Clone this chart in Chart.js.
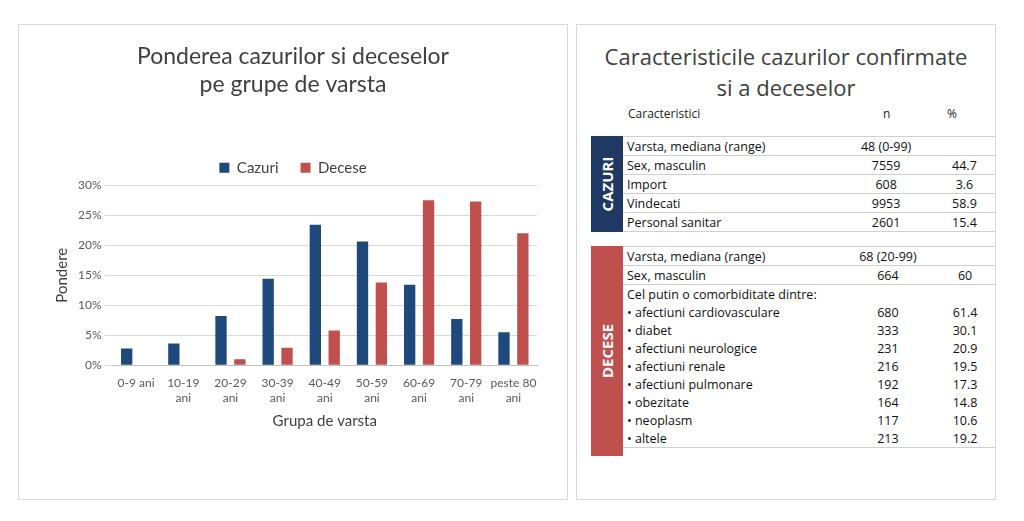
<!DOCTYPE html>
<html>
<head>
<meta charset="utf-8">
<script src="https://cdn.jsdelivr.net/npm/chart.js@4"></script>
<style>
  body { margin: 0; background: #fff; width: 1024px; height: 521px; position: relative; font-family: "Open Sans", sans-serif; }
  .panel { position: absolute; border: 1px solid #d9d9d9; background: #fff; }
  #left { left: 18px; top: 24px; width: 548px; height: 474px; }
  #right { left: 576px; top: 24px; width: 418px; height: 474px; }
  #chartBox { position: absolute; left: 10px; top: 14px; width: 530px; height: 450px; }
  h2 { position: absolute; left: 0; top: 16px; width: 418px; margin: 0; text-align: center; font-weight: normal; font-size: 22px; line-height: 31px; color: #404040; }
  .hdr { position: absolute; top: 80px; font-size: 12px; color: #222; }
  table { position: absolute; left: 46px; border-collapse: collapse; font-size: 12.5px; color: #111; }
  td { height: 18px; padding: 0 4px; border-bottom: 1px solid #d0d0d0; white-space: nowrap; }
  td.n { text-align: center; width: 90px; }
  td.p { text-align: center; width: 55px; }
  td.t { width: 212px; }
  tr.nb td { border-bottom: none; }
  .side { position: absolute; left: 14px; width: 32px; color: #fff; font-weight: bold; font-size: 15px; }
  .side span { position: absolute; left: 50%; top: 50%; transform: translate(-50%,-50%) rotate(-90deg); white-space: nowrap; }
</style>
</head>
<body>
<div class="panel" id="left"><div id="chartBox"><canvas id="chart"></canvas></div></div>
<div class="panel" id="right">
  <h2>Caracteristicile cazurilor confirmate<br>si a deceselor</h2>
  <div class="hdr" style="left:51px">Caracteristici</div>
  <div class="hdr" style="left:306px">n</div>
  <div class="hdr" style="left:370px">%</div>
  <div class="side" style="top:111px;height:96px;background:#1f3864"><span>CAZURI</span></div>
  <table id="tCaz" style="top:111px;border-top:1px solid #d0d0d0"></table>
  <div class="side" style="top:221px;height:210px;background:#c0504d"><span>DECESE</span></div>
  <table id="tDec" style="top:221px;border-top:1px solid #d0d0d0"></table>
</div>
<script>
var grupe = [['0-9 ani'], ['10-19', 'ani'], ['20-29', 'ani'], ['30-39', 'ani'], ['40-49', 'ani'], ['50-59', 'ani'], ['60-69', 'ani'], ['70-79', 'ani'], ['peste 80', 'ani']];
var cazuri = [2.8, 3.6, 8.2, 14.4, 23.4, 20.6, 13.4, 7.7, 5.5];
var decese = [0, 0, 1.0, 2.9, 5.8, 13.8, 27.5, 27.3, 22.0];

var randuriCazuri = [
  ['Varsta, mediana (range)', '48 (0-99)', ''],
  ['Sex, masculin', '7559', '44.7'],
  ['Import', '608', '3.6'],
  ['Vindecati', '9953', '58.9'],
  ['Personal sanitar', '2601', '15.4']
];
var randuriDecese = [
  ['Varsta, mediana (range)', '68 (20-99)', ''],
  ['Sex, masculin', '664', '60'],
  ['Cel putin o comorbiditate dintre:', '', ''],
  ['• afectiuni cardiovasculare', '680', '61.4'],
  ['• diabet', '333', '30.1'],
  ['• afectiuni neurologice', '231', '20.9'],
  ['• afectiuni renale', '216', '19.5'],
  ['• afectiuni pulmonare', '192', '17.3'],
  ['• obezitate', '164', '14.8'],
  ['• neoplasm', '117', '10.6'],
  ['• altele', '213', '19.2']
];

function fill(id, rows, noBorderFrom) {
  var t = document.getElementById(id);
  rows.forEach(function (r, i) {
    var tr = document.createElement('tr');
    if (noBorderFrom !== undefined && i >= noBorderFrom && i < rows.length - 1) tr.className = 'nb';
    tr.innerHTML = '<td class="t">' + r[0] + '</td><td class="n">' + r[1] + '</td><td class="p">' + r[2] + '</td>';
    t.appendChild(tr);
  });
}
fill('tCaz', randuriCazuri);
fill('tDec', randuriDecese, 2);

var font = 'Lato, "Open Sans", sans-serif';
new Chart(document.getElementById('chart'), {
  type: 'bar',
  data: {
    labels: grupe,
    datasets: [
      { label: 'Cazuri', data: cazuri, backgroundColor: '#1f497d', barPercentage: 0.6, categoryPercentage: 0.8 },
      { label: 'Decese', data: decese, backgroundColor: '#c0504d', barPercentage: 0.6, categoryPercentage: 0.8 }
    ]
  },
  options: {
    responsive: true, maintainAspectRatio: false, animation: false,
    layout: { padding: { left: 20, right: 22, bottom: 55 } },
    plugins: {
      title: { display: true, text: ['Ponderea cazurilor si deceselor', 'pe grupe de varsta'],
        color: '#404040', font: { family: font, size: 23, weight: 'normal' }, padding: { top: 4, bottom: 40 } },
      legend: { labels: { color: '#404040', font: { family: font, size: 15 }, boxWidth: 10, boxHeight: 10, padding: 22 } },
      tooltip: { enabled: false }
    },
    scales: {
      x: {
        grid: { display: false },
        border: { color: '#bfbfbf' },
        ticks: { color: '#595959', font: { family: font, size: 12 }, maxRotation: 0, autoSkip: false },
        title: { display: true, text: 'Grupa de varsta', color: '#404040', font: { family: font, size: 15 } }
      },
      y: {
        min: 0, max: 30,
        border: { display: false },
        grid: { color: '#d9d9d9' },
        ticks: { stepSize: 5, color: '#595959', font: { family: font, size: 12 }, callback: function (v) { return v + '%'; } },
        title: { display: true, text: 'Pondere', color: '#404040', font: { family: font, size: 15 } }
      }
    }
  }
});
</script>
</body>
</html>
